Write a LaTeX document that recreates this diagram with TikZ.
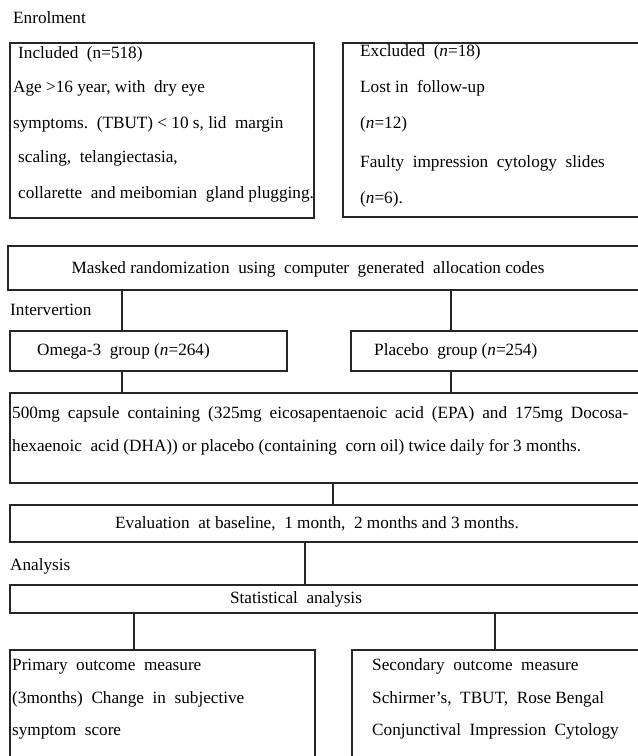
\documentclass[tikz,border=0pt]{standalone}
\usepackage{fontspec}
\setmainfont{Liberation Serif}
\usetikzlibrary{calc}
\tikzset{
  stage/.style={draw=black!85, line width=1.1pt, rectangle, inner sep=0pt, outer sep=0pt, anchor=north west},
  txt/.style={anchor=base west, inner sep=0pt, font=\fontsize{17.2}{20}\selectfont},
  ctxt/.style={txt, anchor=base},
  link/.style={draw=black!85, line width=1.1pt}
}
\newcommand\nn{\textit{n}}

\begin{document}
\begin{tikzpicture}[x=1pt, y=-1pt]
  \useasboundingbox (0,0) rectangle (638,756);
  \clip (0,0) rectangle (638,756);

  \node[txt] (enrol) at (13,23) {Enrolment};

  \node[stage, minimum width=304pt, minimum height=175pt] (incl) at (10,43) {};
  \node[txt] (incl1) at (18,58) {Included\ \ (n=518)};
  \node[txt] (incl2) at (13,92) {Age >16 year, with\ \ dry eye};
  \node[txt] (incl3) at (13,128) {symptoms.\ \ (TBUT) < 10 s, lid\ \ margin};
  \node[txt] (incl4) at (18,162) {scaling,\ \ telangiectasia,};
  \node[txt] (incl5) at (18,198) {collarette\ \ and meibomian\ \ gland plugging.};

  \node[stage, minimum width=310pt, minimum height=174pt] (excl) at (343,43) {};
  \node[txt] (excl1) at (360,56) {Excluded\ \ (\nn=18)};
  \node[txt] (excl2) at (360,92) {Lost in\ \ follow-up};
  \node[txt] (excl3) at (360,128) {(\nn=12)};
  \node[txt] (excl4) at (360,167) {Faulty\ \ impression\ \ cytology\ \ slides};
  \node[txt] (excl5) at (360,203) {(\nn=6).};

  \node[stage, minimum width=650pt, minimum height=44pt] (rand) at (8,246) {};
  \node[ctxt] (randt) at (308,273) {Masked randomization\ \ using\ \ computer\ \ generated\ \ allocation codes};

  \node[txt] (interv) at (10,315) {Intervertion};

  \node[stage, minimum width=277pt, minimum height=40pt] (omega) at (10,331) {};
  \node[txt] (omegat) at (37,355) {Omega-3\ \ group (\nn=264)};
  \node[stage, minimum width=300pt, minimum height=40pt] (placebo) at (351,331) {};
  \node[txt] (placebot) at (374,355) {Placebo\ \ group (\nn=254)};

  \node[stage, minimum width=650pt, minimum height=90pt] (dose) at (10,393) {};
  \node[txt] (dose1) at (12,418) {\makebox[616pt][s]{500mg capsule containing (325mg eicosapentaenoic acid (EPA) and 175mg Docosa-}};
  \node[txt] (dose2) at (12,451) {hexaenoic\ \ acid (DHA)) or placebo (containing\ \ corn oil) twice daily for 3 months.};

  \node[stage, minimum width=650pt, minimum height=37pt] (eval) at (10,505) {};
  \node[ctxt] (evalt) at (317,528) {Evaluation\ \ at baseline,\ \ 1 month,\ \ 2 months and 3 months.};

  \node[txt] (anal) at (10,570) {Analysis};

  \node[stage, minimum width=650pt, minimum height=28pt] (stat) at (10,585) {};
  \node[ctxt] (statt) at (296,603) {Statistical\ \ analysis};

  \node[stage, minimum width=305pt, minimum height=120pt] (prim) at (10,650) {};
  \node[txt] (prim1) at (12,670) {Primary\ \ outcome\ \ measure};
  \node[txt] (prim2) at (12,703) {(3months)\ \ Change\ \ in\ \ subjective};
  \node[txt] (prim3) at (12,735) {symptom\ \ score};
  \node[stage, minimum width=300pt, minimum height=120pt] (sec) at (352,650) {};
  \node[txt] (sec1) at (372,670) {Secondary\ \ outcome\ \ measure};
  \node[txt] (sec2) at (372,703) {Schirmer’s,\ \ TBUT,\ \ Rose Bengal};
  \node[txt] (sec3) at (372,735) {Conjunctival\ \ Impression\ \ Cytology};

  \coordinate (xa) at (122,0);
  \coordinate (xb) at (451,0);
  \coordinate (xc) at (333,0);
  \coordinate (xd) at (305,0);
  \coordinate (xe) at (134,0);
  \coordinate (xf) at (495,0);

  \draw[link] (rand.south -| xa) -- (omega.north -| xa);
  \draw[link] (rand.south -| xb) -- (placebo.north -| xb);
  \draw[link] (omega.south -| xa) -- (dose.north -| xa);
  \draw[link] (placebo.south -| xb) -- (dose.north -| xb);
  \draw[link] (dose.south -| xc) -- (eval.north -| xc);
  \draw[link] (eval.south -| xd) -- (stat.north -| xd);
  \draw[link] (stat.south -| xe) -- (prim.north -| xe);
  \draw[link] (stat.south -| xf) -- (sec.north -| xf);
\end{tikzpicture}
\end{document}
